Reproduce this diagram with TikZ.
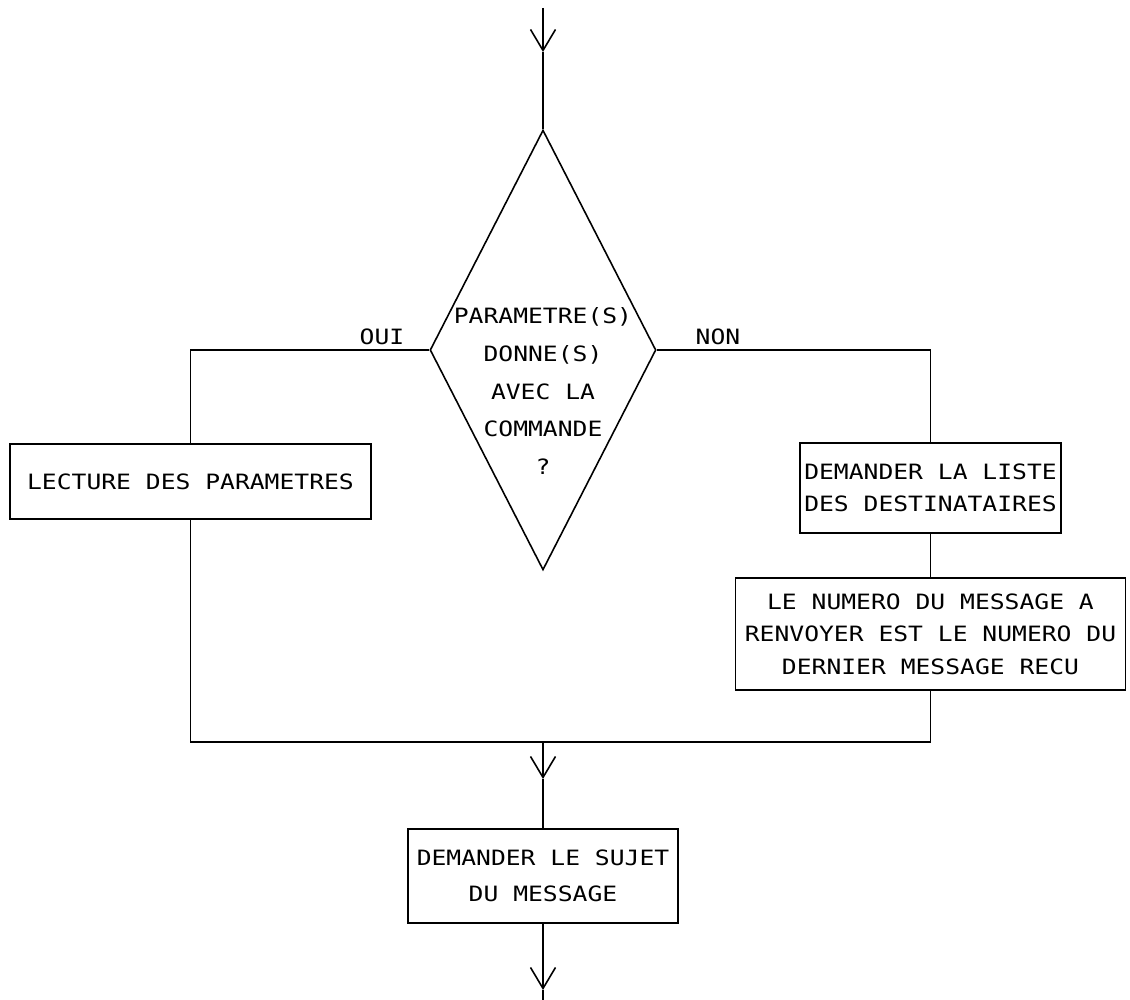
\documentclass[tikz,border=0pt]{standalone}
\usepackage{fontspec}
\newfontfamily\plotfont[FakeStretch=1.17]{DejaVu Sans Mono}
\usetikzlibrary{arrows.meta}
\usetikzlibrary{shapes.geometric}
\begin{document}
\begin{tikzpicture}[x=0.02cm,y=-0.02cm,line width=0.9pt,
  box/.style={rectangle,draw,inner sep=0pt,align=center,font=\plotfont\fontsize{12}{18.5}\selectfont},
  decision/.style={diamond,draw,inner sep=0pt,minimum width=4.52cm,minimum height=8.8cm},
  lbl/.style={font=\plotfont\fontsize{12}{17}\selectfont},
  flow/.style={-{Straight Barb[length=0.42cm,width=0.5cm]}}]
\useasboundingbox (0,0) rectangle (1130,1000);

\node[decision] (q) at (543,350) {};
\node[lbl,align=center,font=\plotfont\fontsize{12}{21.6}\selectfont] (qtext) at (543,391) {PARAMETRE(S)\\DONNE(S)\\AVEC LA\\COMMANDE\\?};
\node[lbl] (oui) at (382,337) {OUI};
\node[lbl] (non) at (718,337) {NON};

\node[box,minimum width=7.22cm,minimum height=1.5cm] (lect) at (190.5,481.5) {LECTURE DES PARAMETRES};
\node[box,minimum width=5.22cm,minimum height=1.8cm] (dest) at (930.5,488) {DEMANDER LA LISTE\\DES DESTINATAIRES};
\node[box,minimum width=7.8cm,minimum height=2.24cm] (num) at (930.5,634) {LE NUMERO DU MESSAGE A\\RENVOYER EST LE NUMERO DU\\DERNIER MESSAGE RECU};
\node[box,minimum width=5.4cm,minimum height=1.88cm,font=\plotfont\fontsize{12}{20.5}\selectfont] (sujet) at (543,876) {DEMANDER LE SUJET\\DU MESSAGE};

\coordinate (start) at (543,8);
\coordinate (tip1) at (543,52);
\coordinate (merge) at (543,742);
\coordinate (tip2) at (543,779);
\coordinate (tip3) at (543,990);
\coordinate (end) at (543,1000);

\draw[flow] (start) -- (tip1);
\draw (tip1) -- (q.north);
\draw (q.west) -| (lect.north);
\draw (q.east) -| (dest.north);
\draw (dest.south) -- (num.north);
\draw (lect.south) |- (merge) -| (num.south);
\draw[flow] (merge) -- (tip2);
\draw (tip2) -- (sujet.north);
\draw[flow] (sujet.south) -- (tip3);
\draw (tip3) -- (end);
\end{tikzpicture}
\end{document}
